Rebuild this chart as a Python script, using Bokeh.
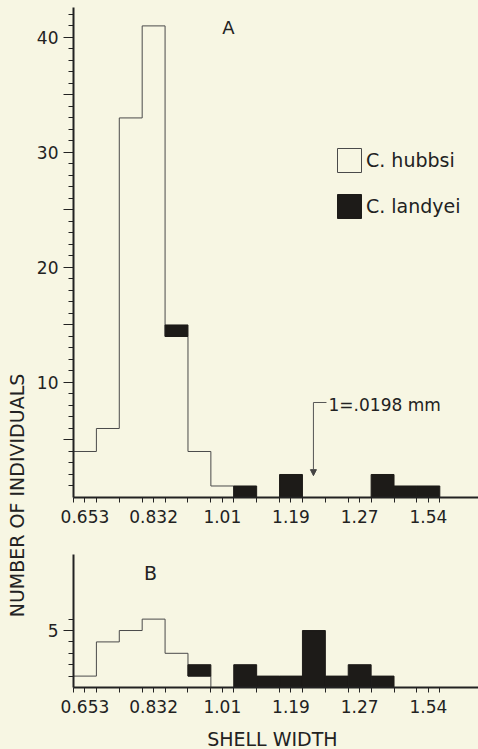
import numpy as np
from math import pi
from bokeh.plotting import figure
from bokeh.layouts import row, column
from bokeh.models import (Range1d, FixedTicker, Label, Arrow, NormalHead,
                          Legend, LegendItem)
from bokeh.embed import file_html
from bokeh.resources import INLINE

# ---------------- data ----------------
a_hubbsi = [4, 6, 33, 41, 14, 4, 1, 0, 0, 0, 0, 0, 0, 0, 0, 0]
a_landyei = [0, 0, 0, 0, 1, 0, 0, 1, 0, 2, 0, 0, 0, 2, 1, 1]
b_hubbsi = [1, 4, 5, 6, 3, 1, 0, 0, 0, 0, 0, 0, 0, 0, 0, 0]
b_landyei = [0, 0, 0, 0, 0, 1, 0, 2, 1, 1, 5, 1, 2, 1, 0, 0]
tick_bins = [0, 3, 6, 9, 12, 15]
tick_labels = ["0.653", "0.832", "1.01", "1.19", "1.27", "1.54"]
a_yticks = [5, 10, 15, 20, 25, 30, 35, 40]
a_ylabels = ["", "10", "", "20", "", "30", "", "40"]
b_yticks = [5]
b_ylabels = ["5"]

BG = "#f7f6e3"
DARK = "#1d1b18"
INK = "#222222"
FONT = "DejaVu Sans"

LABEL_W = 30
PANEL_W = 448
XMAX = 17.69
A_H = 554
B_H = 166
X_H = 29
TOTAL_H = A_H + B_H + X_H


def style(p):
    p.background_fill_color = BG
    p.border_fill_color = BG
    p.outline_line_color = None
    p.grid.visible = False


def make_panel(hub, lan, height, yend, border_top, border_bottom,
               yticks, ylabels, yminor):
    p = figure(width=PANEL_W, height=height, x_range=Range1d(0, XMAX),
               y_range=Range1d(0, yend), output_backend="svg",
               toolbar_location=None, min_border_left=43, min_border_right=0,
               min_border_top=border_top, min_border_bottom=border_bottom)
    style(p)
    n = len(hub)
    xs, ys = [0.0], [0.0]
    for i, h in enumerate(hub):
        xs += [i, i + 1]
        ys += [h, h]
    xs += [n]
    ys += [0]
    pr = p.patch(np.array(xs, float), np.array(ys, float), fill_color=BG,
                 line_color="#4a4a4a", line_width=1)
    hub_a = np.array(hub, float)
    lan_a = np.array(lan, float)
    idx = np.nonzero(lan_a > 0)[0]
    qr = p.quad(left=idx.astype(float), right=idx + 1.0, bottom=hub_a[idx],
                top=hub_a[idx] + lan_a[idx], fill_color=DARK, line_color=DARK,
                line_width=1)

    xa = p.xaxis[0]
    xa.ticker = FixedTicker(ticks=[t + 0.5 for t in tick_bins],
                            minor_ticks=list(range(0, 17)))
    xa.major_label_overrides = {t + 0.5: l for t, l in zip(tick_bins, tick_labels)}
    ya = p.yaxis[0]
    ya.ticker = FixedTicker(ticks=yticks, minor_ticks=yminor)
    ya.major_label_overrides = {t: l for t, l in zip(yticks, ylabels)}
    for ax in (xa, ya):
        ax.axis_line_width = 2
        ax.axis_line_color = INK
        ax.major_tick_line_color = INK
        ax.minor_tick_line_color = INK
        ax.major_tick_in = 0
        ax.minor_tick_in = 0
        ax.major_label_text_font = FONT
        ax.major_label_text_font_size = "17px"
        ax.major_label_text_color = INK
    xa.major_tick_out = 5
    xa.minor_tick_out = 5
    xa.major_label_standoff = 7
    ya.major_tick_out = 10
    ya.minor_tick_out = 5
    ya.major_label_standoff = 5
    return p, pr, qr


# Panel A
pa, pra, qra = make_panel(a_hubbsi, a_landyei, A_H, 42.6, 7, 57,
                          a_yticks, a_ylabels, list(range(1, 43)))
pa.add_layout(Label(x=6.77, y=40.87, text="A", text_font=FONT,
                    text_font_size="18px", text_color=INK,
                    text_align="center", text_baseline="middle"))
legend = Legend(items=[LegendItem(label="C. hubbsi", renderers=[pra]),
                       LegendItem(label="C. landyei", renderers=[qra])],
                location=(261, 276), glyph_width=30, glyph_height=30,
                label_height=30, spacing=16, padding=0, margin=0,
                border_line_color=None, background_fill_alpha=0,
                label_text_font=FONT, label_text_font_size="19px",
                label_standoff=2, label_text_color=INK)
pa.add_layout(legend)
pa.add_layout(Label(x=11.14, y=8.0, text="1=.0198 mm", text_font=FONT,
                    text_font_size="17px", text_color=INK,
                    text_align="left", text_baseline="middle"))
pa.add_layout(Arrow(x_start=10.48, y_start=8.26, x_end=10.48, y_end=1.9,
                    line_color="#555555", line_width=1,
                    end=NormalHead(size=6, fill_color="#444444",
                                   line_color="#444444")))
pa.add_layout(Arrow(x_start=10.48, y_start=8.26, x_end=11.05, y_end=8.26,
                    line_color="#555555", line_width=1, end=None))

# Panel B
pb, prb, qrb = make_panel(b_hubbsi, b_landyei, B_H, 11.67, 0, 33,
                          b_yticks, b_ylabels, [1, 2, 3, 4, 6])
pb.add_layout(Label(x=3.36, y=10.09, text="B", text_font=FONT,
                    text_font_size="19px", text_color=INK,
                    text_align="center", text_baseline="middle"))

# x-axis title strip
px = figure(width=PANEL_W, height=X_H, x_range=Range1d(0, PANEL_W),
            y_range=Range1d(0, X_H), output_backend="svg",
            toolbar_location=None, min_border=0,
            x_axis_type=None, y_axis_type=None)
style(px)
px.add_layout(Label(x=250 - LABEL_W, y=11, text="SHELL WIDTH", text_font=FONT,
                    text_font_size="19px", text_color=INK,
                    text_align="center", text_baseline="middle"))

# Shared vertical label
pl = figure(width=LABEL_W, height=TOTAL_H, x_range=Range1d(0, LABEL_W),
            y_range=Range1d(0, TOTAL_H), output_backend="svg",
            toolbar_location=None, min_border=0,
            x_axis_type=None, y_axis_type=None)
style(pl)
pl.add_layout(Label(x=16, y=TOTAL_H - 495, text="NUMBER OF INDIVIDUALS",
                    angle=pi / 2, text_font=FONT, text_font_size="19px",
                    text_color=INK, text_align="center",
                    text_baseline="middle"))

layout = row(pl, column(pa, pb, px, styles={"background-color": BG}),
             styles={"background-color": BG})
open("out.html", "w").write(file_html(layout, INLINE))
